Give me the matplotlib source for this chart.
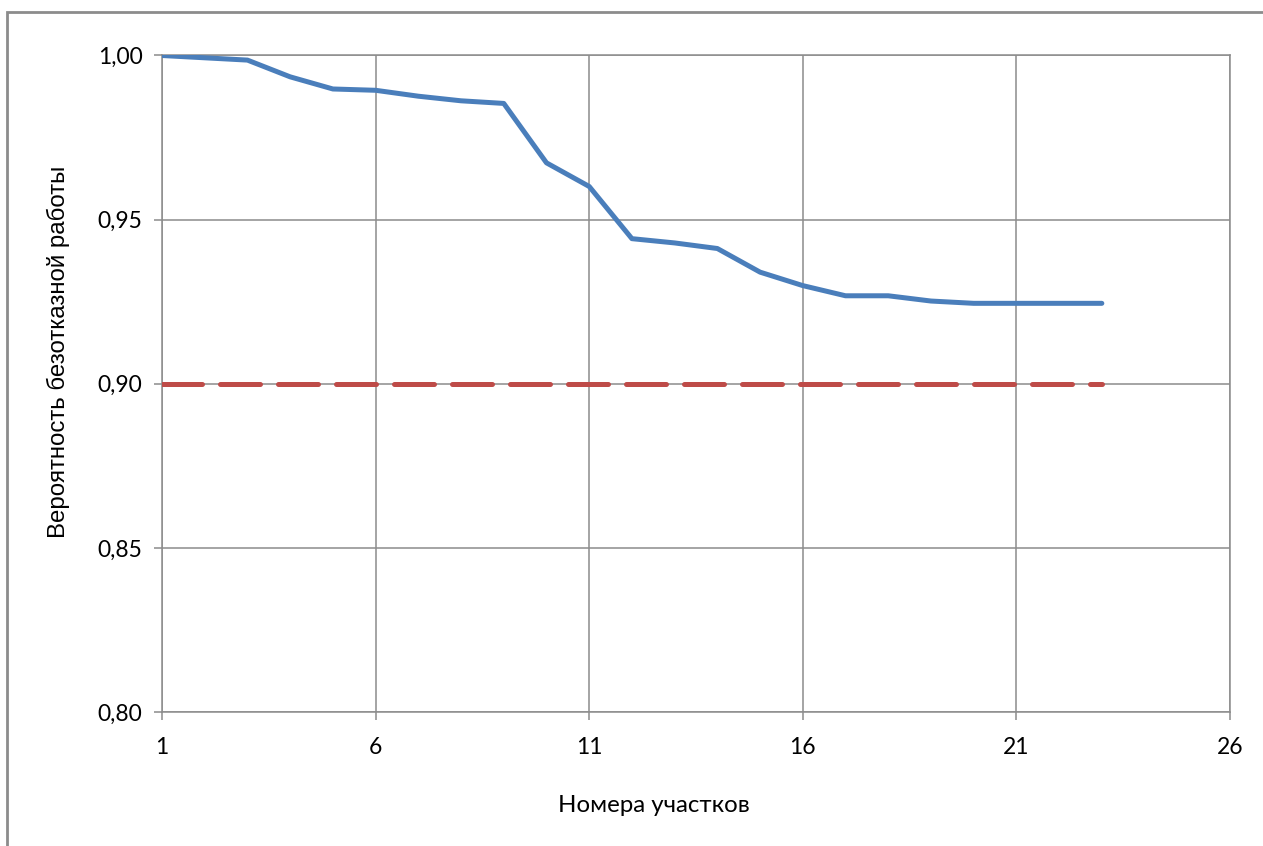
import matplotlib.pyplot as plt
from matplotlib.patches import Rectangle

# данные: номера участков и вероятность безотказной работы
sections = list(range(1, 24))
reliability = [1.0000, 0.9993, 0.9986, 0.9935, 0.9898, 0.9894, 0.9876, 0.9862,
               0.9854, 0.9673, 0.9601, 0.9442, 0.9429, 0.9412, 0.9340, 0.9299,
               0.9268, 0.9268, 0.9252, 0.9245, 0.9245, 0.9245, 0.9245]
threshold = [0.90] * len(sections)

x_ticks = [1, 6, 11, 16, 21, 26]
y_ticks = [0.80, 0.85, 0.90, 0.95, 1.00]

W, H = 1263, 846
fig = plt.figure(figsize=(W / 100, H / 100), dpi=100)
ax = fig.add_axes([162 / W, 1 - 712 / H, (1230 - 162) / W, (712 - 55.5) / H])

grid_c = "#8c8c8c"
ax.plot(sections, reliability, color="#4a7ebb", lw=3.6, solid_joinstyle="round",
        solid_capstyle="round", zorder=3)
ax.plot(sections, threshold, color="#be4b48", lw=3.6, dashes=(8, 3.6),
        dash_capstyle="round", zorder=3)

ax.set_xlim(1, 26)
ax.set_ylim(0.80, 1.00)
ax.set_xticks(x_ticks)
ax.set_yticks(y_ticks)
ax.set_xticklabels([str(v) for v in x_ticks])
ax.set_yticklabels([f"{v:.2f}".replace(".", ",") for v in y_ticks])
ax.grid(True, color=grid_c, lw=1.1)
ax.set_axisbelow(True)
for s in ax.spines.values():
    s.set_color(grid_c)
    s.set_linewidth(1.1)
ax.tick_params(axis="both", color=grid_c, length=6, width=1.1, labelsize=16.5)
ax.tick_params(axis="y", pad=8)
ax.tick_params(axis="x", pad=12)
for lab in ax.get_xticklabels() + ax.get_yticklabels():
    lab.set_fontfamily("Lato")

fig.text(58 / W, 1 - 352 / H, "Вероятность безотказной работы", rotation=90,
         ha="center", va="center", fontsize=17.3, family="Liberation Sans")
fig.text(654 / W, 1 - 805 / H, "Номера участков", ha="center", va="center",
         fontsize=17.3, family="Lato")

# рамка области диаграммы
fig.patches.append(Rectangle((7 / W, -0.05), 1.1, 1 - 12 / H + 0.05,
                             transform=fig.transFigure, fill=False,
                             edgecolor="#8c8c8c", lw=2))

fig.savefig("out.png", dpi=100)
